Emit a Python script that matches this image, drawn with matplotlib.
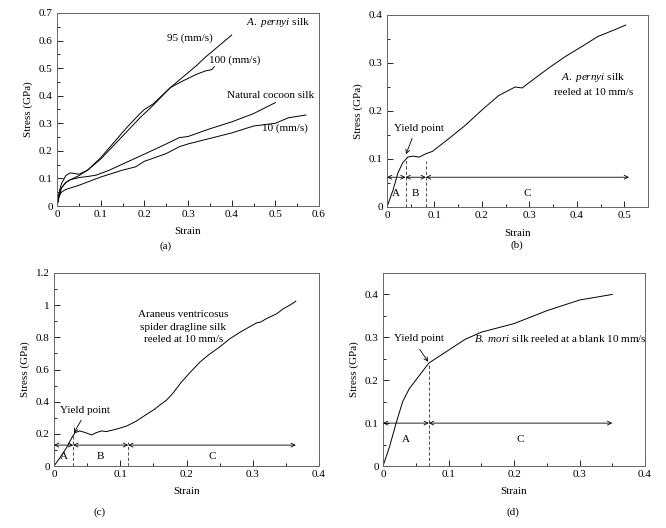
import numpy as np
import matplotlib
matplotlib.use('Agg')
import matplotlib.pyplot as plt
from matplotlib.ticker import MultipleLocator, FuncFormatter

plt.rcParams['font.family'] = ['Liberation Serif', 'DejaVu Serif']
plt.rcParams['font.size'] = 8
plt.rcParams['mathtext.fontset'] = 'custom'
plt.rcParams['mathtext.rm'] = 'Liberation Serif'
plt.rcParams['mathtext.it'] = 'Liberation Serif:italic'

# (a) A. pernyi silk at different reeling speeds
a95_strain = [0, 0.005, 0.01, 0.02, 0.03, 0.05, 0.07, 0.1, 0.13, 0.16, 0.19, 0.22,
              0.26, 0.29, 0.32, 0.34, 0.37, 0.385, 0.40]
a95_stress = [0, 0.04, 0.065, 0.085, 0.095, 0.11, 0.13, 0.17, 0.22, 0.27, 0.32, 0.365,
              0.43, 0.47, 0.51, 0.54, 0.58, 0.60, 0.62]
a100_strain = [0, 0.005, 0.01, 0.02, 0.03, 0.04, 0.05, 0.07, 0.1, 0.13, 0.16, 0.19,
               0.2, 0.22, 0.26, 0.29, 0.32, 0.34, 0.355, 0.36]
a100_stress = [0, 0.05, 0.08, 0.11, 0.12, 0.118, 0.115, 0.13, 0.175, 0.23, 0.285, 0.335,
               0.35, 0.37, 0.43, 0.455, 0.478, 0.49, 0.495, 0.505]
anat_strain = [0, 0.005, 0.01, 0.02, 0.03, 0.05, 0.07, 0.09, 0.12, 0.15, 0.2, 0.25,
               0.28, 0.3, 0.35, 0.4, 0.45, 0.5]
anat_stress = [0, 0.04, 0.065, 0.085, 0.095, 0.103, 0.107, 0.112, 0.13, 0.152, 0.188,
               0.225, 0.248, 0.252, 0.28, 0.305, 0.335, 0.375]
a10_strain = [0, 0.005, 0.01, 0.02, 0.05, 0.1, 0.15, 0.18, 0.2, 0.25, 0.28, 0.3, 0.35,
              0.4, 0.45, 0.5, 0.53, 0.57]
a10_stress = [0, 0.035, 0.05, 0.06, 0.075, 0.105, 0.13, 0.142, 0.162, 0.19, 0.215,
              0.225, 0.245, 0.265, 0.29, 0.3, 0.32, 0.33]

# (b) A. pernyi silk reeled at 10 mm/s
b_strain = [0, 0.013, 0.023, 0.033, 0.044, 0.054, 0.068, 0.082, 0.096, 0.131, 0.166,
            0.2, 0.235, 0.27, 0.285, 0.298, 0.34, 0.375, 0.41, 0.444, 0.479, 0.503]
b_stress = [0, 0.036, 0.071, 0.092, 0.104, 0.106, 0.104, 0.111, 0.116, 0.143, 0.171,
            0.202, 0.232, 0.25, 0.248, 0.258, 0.289, 0.313, 0.334, 0.355, 0.369, 0.379]
b_bounds = [0, 0.039, 0.082, 0.51]

# (c) Araneus ventricosus dragline silk
c_strain = [0, 0.009, 0.019, 0.027, 0.032, 0.039, 0.047, 0.057, 0.064, 0.072, 0.079,
            0.094, 0.11, 0.125, 0.14, 0.152, 0.16, 0.17, 0.18, 0.192, 0.205, 0.22,
            0.233, 0.25, 0.265, 0.28, 0.295, 0.306, 0.312, 0.32, 0.336, 0.346, 0.358, 0.365]
c_stress = [0, 0.052, 0.114, 0.177, 0.208, 0.218, 0.208, 0.193, 0.208, 0.218, 0.214,
            0.229, 0.249, 0.281, 0.322, 0.353, 0.38, 0.41, 0.455, 0.52, 0.58, 0.645,
            0.69, 0.74, 0.79, 0.83, 0.865, 0.89, 0.895, 0.915, 0.946, 0.977, 1.005, 1.025]
c_bounds = [0, 0.029, 0.112, 0.365]

# (d) B. mori silk
d_strain = [0, 0.01, 0.02, 0.03, 0.04, 0.055, 0.07, 0.1, 0.125, 0.15, 0.175, 0.2,
            0.25, 0.3, 0.35]
d_stress = [0, 0.045, 0.1, 0.15, 0.18, 0.21, 0.24, 0.27, 0.295, 0.312, 0.322, 0.332,
            0.362, 0.387, 0.4]
d_bounds = [0, 0.07, 0.35]

W, H = 666, 528
fig = plt.figure(figsize=(W / 100, H / 100), dpi=100)


def make_axes(left, top, right, bottom):
    return fig.add_axes([left / W, 1 - bottom / H, (right - left) / W, (bottom - top) / H])


def style(ax, xmax, ymax, xmaj, ymaj):
    ax.set_xlim(0, xmax)
    ax.set_ylim(0, ymax)
    ax.xaxis.set_major_locator(MultipleLocator(xmaj))
    ax.xaxis.set_minor_locator(MultipleLocator(xmaj / 2))
    ax.yaxis.set_major_locator(MultipleLocator(ymaj))
    ax.yaxis.set_minor_locator(MultipleLocator(ymaj / 2))
    fmt = FuncFormatter(lambda v, p: f'{round(v, 3):g}')
    ax.xaxis.set_major_formatter(fmt)
    ax.yaxis.set_major_formatter(fmt)
    ax.tick_params(which='both', direction='in', top=False, right=False,
                   labelsize=8, width=0.6, pad=3)
    ax.tick_params(which='major', length=4)
    ax.tick_params(which='minor', length=2)
    for s in ax.spines.values():
        s.set_color('#666666')
        s.set_linewidth(0.7)
    ax.set_xlabel('Strain', labelpad=6)
    ax.set_ylabel('Stress (GPa)', labelpad=4)


def regions(ax, bounds, y, labels, label_y, dash_tops):
    for x0, x1 in zip(bounds[:-1], bounds[1:]):
        ax.annotate('', xy=(x1, y), xytext=(x0, y),
                    arrowprops=dict(arrowstyle='<->', lw=0.6, color='k',
                                    shrinkA=0, shrinkB=0, mutation_scale=7))
    for x, t in zip(bounds[1:-1], dash_tops):
        ax.plot([x, x], [0, t], ls=(0, (4, 2.5)), lw=0.6, color='#333333')
    for x0, x1, lab in zip(bounds[:-1], bounds[1:], labels):
        ax.text((x0 + x1) / 2, label_y, lab, ha='center', va='center')


def yield_arrow(ax, text_xy, tail, head):
    ax.text(*text_xy, 'Yield point', ha='center', va='center')
    ax.annotate('', xy=head, xytext=tail,
                arrowprops=dict(arrowstyle='->', lw=0.6, color='k',
                                shrinkA=0, shrinkB=0, mutation_scale=7))


lw = 0.7

# panel (a)
ax = make_axes(57, 13, 319, 206)
ax.plot(a95_strain, a95_stress, color='k', lw=lw)
ax.plot(a100_strain, a100_stress, color='k', lw=lw)
ax.plot(anat_strain, anat_stress, color='k', lw=lw)
ax.plot(a10_strain, a10_stress, color='k', lw=lw)
style(ax, 0.6, 0.7, 0.1, 0.1)
ax.text(0.578, 0.666, r'$\it{A.\ pernyi}$ silk', ha='right', va='center')
ax.text(0.305, 0.609, '95 (mm/s)', ha='center', va='center')
ax.text(0.408, 0.53, '100 (mm/s)', ha='center', va='center')
ax.text(0.489, 0.40, 'Natural cocoon silk', ha='center', va='center')
ax.text(0.522, 0.282, '10 (mm/s)', ha='center', va='center')

# panel (b)
ax = make_axes(387, 15, 648, 207)
ax.plot(b_strain, b_stress, color='k', lw=lw)
style(ax, 0.55, 0.4, 0.1, 0.1)
regions(ax, b_bounds, 0.062, ['A', 'B', 'C'], 0.029, [0.105, 0.095])
yield_arrow(ax, (0.068, 0.164), (0.053, 0.143), (0.040, 0.110))
ax.text(0.435, 0.256, '$\\it{A.\\ pernyi}$ silk\nreeled at 10 mm/s',
        ha='center', va='center', linespacing=1.5)

# panel (c)
ax = make_axes(54, 273, 319, 466)
ax.plot(c_strain, c_stress, color='k', lw=lw)
style(ax, 0.4, 1.2, 0.1, 0.2)
regions(ax, c_bounds, 0.13, ['A', 'B', 'C'], 0.056, [0.20, 0.15])
yield_arrow(ax, (0.047, 0.343), (0.041, 0.285), (0.030, 0.205))
ax.text(0.195, 0.863, 'Araneus ventricosus\nspider dragline silk\nreeled at 10 mm/s',
        ha='center', va='center', linespacing=1.5)

# panel (d)
ax = make_axes(383, 273, 645, 466)
ax.plot(d_strain, d_stress, color='k', lw=lw)
style(ax, 0.4, 0.45, 0.1, 0.1)
regions(ax, d_bounds, 0.1, ['A', 'C'], 0.062, [0.24])
yield_arrow(ax, (0.055, 0.297), (0.056, 0.272), (0.069, 0.243))
ax.text(0.271, 0.297, '$\\it{B.\\ mori}$ silk reeled at a blank 10 mm/s',
        ha='center', va='center')

for lab, x, y in [('(a)', 166, 246), ('(b)', 517, 245), ('(c)', 100, 512), ('(d)', 513, 512)]:
    fig.text(x / W, 1 - y / H, lab, ha='center', va='center')

fig.savefig('out.png', dpi=100)
